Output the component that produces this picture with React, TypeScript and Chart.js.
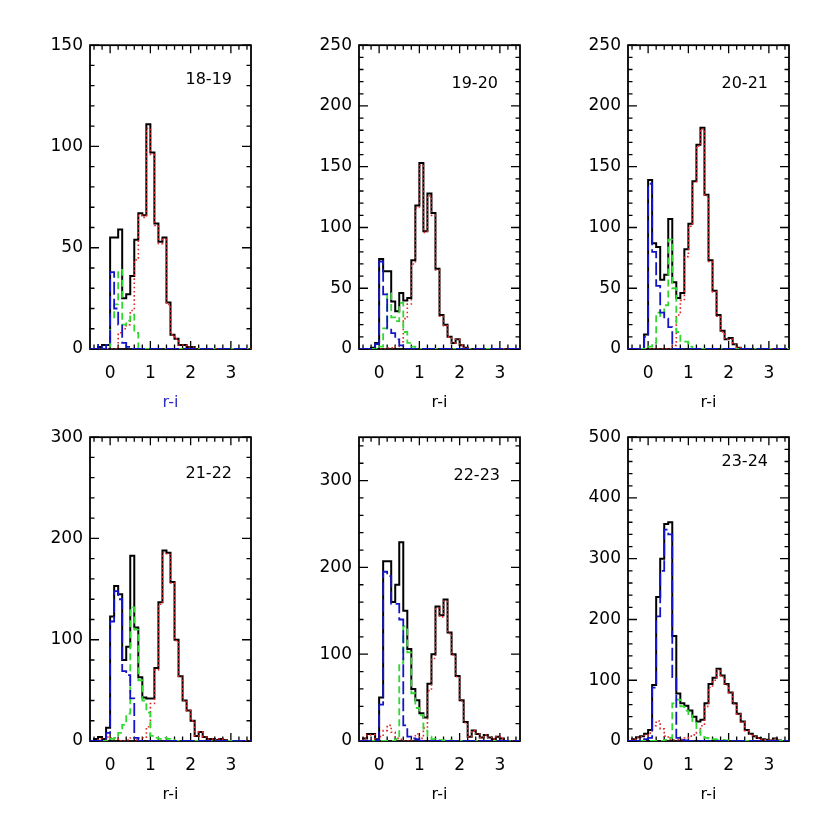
import { useEffect, useRef } from "react";
import { Chart, registerables } from "chart.js";

Chart.register(...registerables);

// ---------------- data ----------------
// histogram bins of width 0.1 starting at r-i = -0.5 (40 bins up to 3.5)
const BIN_START = -0.5;
const BIN_WIDTH = 0.1;

const magRanges = ["18-19", "19-20", "20-21", "21-22", "22-23", "23-24"];
const yMaxes = [150, 250, 250, 300, 350, 500];
const yMajorSteps = [50, 50, 50, 100, 100, 100];
const yMinorSteps = [10, 10, 10, 20, 20, 20];
const xTickLabels = [0, 1, 2, 3];
const xMinorStep = 0.2;
const xTitle = "r-i";

// panel 18-19
const total1819 = [0, 0, 1, 2, 2, 55, 55, 59, 25, 27, 36, 54, 67, 66, 111, 97, 62, 53, 55, 23, 7, 5, 2, 2, 1, 1, 0, 0, 0, 0, 0, 0, 0, 0, 0, 0, 0, 0, 0, 0];
const blue1819 = [0, 0, 2, 0, 2, 38, 20, 12, 3, 1, 0, 0, 0, 0, 0, 0, 0, 0, 0, 0, 0, 0, 0, 0, 0, 0, 0, 0, 0, 0, 0, 0, 0, 0, 0, 0, 0, 0, 0, 0];
const green1819 = [0, 0, 0, 0, 0, 15, 22, 39, 12, 14, 17, 8, 0, 0, 0, 0, 0, 0, 0, 0, 0, 0, 0, 0, 0, 0, 0, 0, 0, 0, 0, 0, 0, 0, 0, 0, 0, 0, 0, 0];
const red1819 = [0, 0, 0, 0, 0, 0, 0, 8, 10, 12, 19, 44, 66, 65, 109, 96, 61, 52, 54, 22, 7, 5, 2, 2, 1, 1, 0, 0, 0, 0, 0, 0, 0, 0, 0, 0, 0, 0, 0, 0];

// panel 19-20
const total1920 = [0, 0, 0, 1, 5, 74, 64, 64, 39, 31, 46, 40, 42, 73, 118, 153, 97, 128, 112, 66, 28, 20, 10, 5, 8, 3, 1, 0, 0, 0, 0, 0, 0, 0, 0, 0, 0, 0, 0, 0];
const blue1920 = [0, 0, 0, 1, 4, 72, 45, 17, 13, 8, 3, 0, 0, 0, 0, 0, 0, 0, 0, 0, 0, 0, 0, 0, 0, 0, 0, 0, 0, 0, 0, 0, 0, 0, 0, 0, 0, 0, 0, 0];
const green1920 = [0, 0, 0, 0, 0, 2, 17, 46, 26, 23, 38, 14, 5, 2, 0, 0, 0, 0, 0, 0, 0, 0, 0, 0, 0, 0, 0, 0, 0, 0, 0, 0, 0, 0, 0, 0, 0, 0, 0, 0];
const red1920 = [0, 0, 0, 0, 0, 0, 0, 1, 1, 2, 6, 25, 37, 70, 116, 151, 96, 126, 110, 65, 27, 19, 10, 5, 8, 3, 1, 0, 0, 0, 0, 0, 0, 0, 0, 0, 0, 0, 0, 0];

// panel 20-21
const total2021 = [0, 0, 0, 0, 12, 139, 87, 84, 57, 61, 107, 55, 42, 46, 82, 103, 138, 168, 182, 127, 73, 48, 28, 15, 8, 9, 4, 1, 0, 0, 0, 0, 0, 0, 0, 0, 0, 0, 0, 0];
const blue2021 = [0, 0, 0, 0, 10, 136, 80, 52, 30, 25, 18, 0, 0, 0, 0, 0, 0, 0, 0, 0, 0, 0, 0, 0, 0, 0, 0, 0, 0, 0, 0, 0, 0, 0, 0, 0, 0, 0, 0, 0];
const green2021 = [0, 0, 0, 0, 0, 2, 5, 30, 27, 36, 90, 50, 14, 6, 6, 2, 0, 0, 0, 0, 0, 0, 0, 0, 0, 0, 0, 0, 0, 0, 0, 0, 0, 0, 0, 0, 0, 0, 0, 0];
const red2021 = [0, 0, 0, 0, 0, 0, 0, 0, 0, 0, 0, 3, 28, 40, 76, 101, 137, 167, 181, 126, 72, 47, 27, 14, 8, 8, 4, 1, 0, 0, 0, 0, 0, 0, 0, 0, 0, 0, 0, 0];

// panel 21-22
const total2122 = [0, 2, 4, 2, 13, 123, 153, 145, 80, 93, 183, 112, 63, 43, 42, 42, 72, 137, 188, 186, 157, 100, 64, 40, 30, 20, 5, 9, 4, 2, 2, 1, 2, 1, 0, 0, 0, 0, 0, 0];
const blue2122 = [0, 0, 0, 2, 8, 118, 148, 140, 69, 65, 42, 3, 0, 0, 0, 0, 0, 0, 0, 0, 0, 0, 0, 0, 0, 0, 0, 0, 0, 0, 0, 0, 0, 0, 0, 0, 0, 0, 0, 0];
const green2122 = [0, 0, 0, 0, 0, 2, 3, 8, 16, 27, 132, 110, 60, 40, 28, 5, 3, 2, 3, 2, 1, 0, 0, 0, 0, 0, 0, 0, 0, 0, 0, 0, 0, 0, 0, 0, 0, 0, 0, 0];
const red2122 = [0, 0, 2, 0, 4, 3, 2, 0, 0, 1, 3, 1, 3, 3, 14, 37, 70, 135, 186, 184, 156, 99, 63, 40, 30, 20, 5, 9, 4, 2, 2, 1, 2, 1, 0, 0, 0, 0, 0, 0];

// panel 22-23
const total2223 = [0, 3, 8, 8, 2, 50, 207, 207, 160, 180, 229, 150, 106, 60, 47, 32, 27, 66, 100, 155, 145, 163, 125, 100, 75, 47, 22, 5, 12, 8, 4, 7, 4, 2, 5, 3, 0, 0, 0, 0];
const blue2223 = [0, 0, 0, 0, 1, 42, 195, 190, 158, 158, 140, 18, 5, 3, 2, 0, 0, 0, 0, 0, 0, 0, 0, 0, 0, 0, 0, 0, 0, 0, 0, 0, 0, 0, 0, 0, 0, 0, 0, 0];
const green2223 = [0, 0, 0, 0, 0, 0, 0, 0, 0, 2, 90, 132, 102, 55, 38, 30, 12, 5, 2, 1, 1, 1, 1, 0, 0, 0, 0, 0, 0, 0, 0, 0, 0, 0, 0, 0, 0, 0, 0, 0];
const red2223 = [0, 3, 7, 7, 2, 5, 12, 18, 10, 3, 2, 0, 0, 3, 8, 3, 15, 58, 95, 153, 143, 161, 124, 99, 74, 46, 21, 5, 12, 8, 4, 7, 4, 2, 5, 3, 0, 0, 0, 0];

// panel 23-24
const total2324 = [0, 3, 6, 8, 12, 18, 92, 237, 300, 357, 360, 173, 78, 62, 58, 50, 40, 32, 35, 62, 94, 104, 119, 108, 94, 80, 62, 45, 32, 18, 12, 8, 5, 3, 2, 1, 4, 1, 0, 0];
const blue2324 = [0, 0, 0, 1, 3, 5, 88, 205, 280, 348, 340, 105, 5, 2, 1, 0, 0, 0, 0, 0, 0, 0, 0, 0, 0, 0, 0, 0, 0, 0, 0, 0, 0, 0, 0, 0, 0, 0, 0, 0];
const green2324 = [0, 0, 0, 0, 0, 0, 0, 0, 0, 2, 5, 62, 68, 57, 50, 42, 30, 18, 10, 5, 4, 3, 2, 2, 1, 1, 0, 0, 0, 0, 0, 0, 0, 0, 0, 0, 0, 0, 0, 0];
const red2324 = [0, 3, 6, 7, 9, 13, 25, 33, 20, 8, 3, 2, 2, 3, 5, 8, 10, 14, 25, 57, 88, 100, 117, 106, 92, 79, 61, 44, 31, 17, 11, 7, 5, 3, 2, 1, 4, 1, 0, 0];

const totals = [total1819, total1920, total2021, total2122, total2223, total2324];
const blues = [blue1819, blue1920, blue2021, blue2122, blue2223, blue2324];
const greens = [green1819, green1920, green2021, green2122, green2223, green2324];
const reds = [red1819, red1920, red2021, red2122, red2223, red2324];

// ---------------- layout / style ----------------
const COL_LEFT = [90, 359, 628];
const ROW_TOP = [44, 436];
const PLOT_W = 161;
const PLOT_H = 305;
const PAD_LEFT = 50;
const PAD_TOP = 16;
const PAD_RIGHT = 20;
const PAD_BOTTOM = 63;
const LABEL_RIGHT = [19, 22, 21, 19, 20, 21];
const LABEL_DY = [35, 39, 39, 37, 39, 25];

const FONT_FAMILY = '"DejaVu Sans", "Liberation Sans", sans-serif';
const BLACK = "#000000";
const BLUE = "#1414c8";
const GREEN = "#30d830";
const RED = "#e02828";
const TITLE_BLUE = "#2d2dc8";

const decorPlugin = {
  id: "decor",
  beforeDatasetsDraw(chart: any, _args: any, opts: any) {
    const { ctx, chartArea } = chart;
    const xs = chart.scales.x;
    const ys = chart.scales.y;
    const { left, right, top, bottom } = chartArea;
    ctx.save();
    ctx.strokeStyle = BLACK;
    ctx.lineWidth = 1.3;
    ctx.beginPath();
    // x ticks (inward, bottom and top)
    for (let k = -2; k <= 17; k++) {
      const v = k * xMinorStep;
      const px = xs.getPixelForValue(v);
      const len = k % 5 === 0 ? 8 : 4.5;
      ctx.moveTo(px, bottom);
      ctx.lineTo(px, bottom - len);
      ctx.moveTo(px, top);
      ctx.lineTo(px, top + len);
    }
    // y ticks (inward, left and right)
    for (let v = 0; v <= opts.ymax; v += opts.minor) {
      const py = ys.getPixelForValue(v);
      const len = v % opts.major === 0 ? 9 : 4.5;
      ctx.moveTo(left, py);
      ctx.lineTo(left + len, py);
      ctx.moveTo(right, py);
      ctx.lineTo(right - len, py);
    }
    ctx.stroke();
    ctx.lineWidth = 1.8;
    ctx.strokeRect(left, top, right - left, bottom - top);
    // magnitude range label
    ctx.fillStyle = BLACK;
    ctx.font = `16px ${FONT_FAMILY}`;
    ctx.textAlign = "right";
    ctx.textBaseline = "middle";
    ctx.fillText(opts.label, right - opts.labelRight, top + opts.labelDy);
    ctx.restore();
  },
};

function histPoints(values: number[]) {
  const pts = values.map((v, i) => ({ x: +(BIN_START + i * BIN_WIDTH).toFixed(2), y: v }));
  pts.push({ x: +(BIN_START + values.length * BIN_WIDTH).toFixed(2), y: values[values.length - 1] });
  return pts;
}

function Panel({ idx }: { idx: number }) {
  const ref = useRef<HTMLCanvasElement>(null);
  const col = idx % 3;
  const row = Math.floor(idx / 3);
  const cw = PAD_LEFT + PLOT_W + PAD_RIGHT;
  const ch = PAD_TOP + PLOT_H + PAD_BOTTOM;

  useEffect(() => {
    if (!ref.current) return;
    const ymax = yMaxes[idx];
    const major = yMajorSteps[idx];
    const yTickVals: number[] = [];
    for (let v = 0; v <= ymax; v += major) yTickVals.push(v);
    const tickFont = { family: FONT_FAMILY, size: 17 };
    const titleFont = { family: FONT_FAMILY, size: 16 };
    const line = (data: number[], color: string, dash: number[], width: number) => ({
      data: histPoints(data),
      borderColor: color,
      borderDash: dash,
      borderWidth: width,
      stepped: "before" as const,
      pointRadius: 0,
      fill: false,
      tension: 0,
    });
    const chart = new Chart(ref.current, {
      type: "line",
      data: {
        datasets: [
          line(blues[idx], BLUE, [13, 4], 1.8),
          line(greens[idx], GREEN, [7, 4], 1.8),
          line(reds[idx], RED, [1.6, 2.6], 1.6),
          line(totals[idx], BLACK, [], 2),
        ],
      },
      options: {
        animation: false,
        responsive: false,
        events: [],
        layout: { padding: { top: PAD_TOP, right: PAD_RIGHT, left: 0, bottom: 0 } },
        plugins: {
          legend: { display: false },
          tooltip: { enabled: false },
          decor: {
            ymax,
            major,
            minor: yMinorSteps[idx],
            label: magRanges[idx],
            labelRight: LABEL_RIGHT[idx],
            labelDy: LABEL_DY[idx],
          },
        } as any,
        scales: {
          x: {
            type: "linear",
            min: -0.5,
            max: 3.5,
            grid: { display: false, drawTicks: false },
            border: { display: false },
            afterBuildTicks: (s: any) => {
              s.ticks = xTickLabels.map((v) => ({ value: v }));
            },
            afterFit: (s: any) => {
              s.height = PAD_BOTTOM;
            },
            ticks: {
              font: tickFont,
              color: BLACK,
              padding: 14,
              maxRotation: 0,
              autoSkip: false,
              callback: (v: any) => String(v),
            },
            title: {
              display: true,
              text: xTitle,
              color: idx === 0 ? TITLE_BLUE : BLACK,
              font: titleFont,
              padding: { top: 0, bottom: 0 },
            },
          },
          y: {
            type: "linear",
            min: 0,
            max: ymax,
            grid: { display: false, drawTicks: false },
            border: { display: false },
            afterBuildTicks: (s: any) => {
              s.ticks = yTickVals.map((v) => ({ value: v }));
            },
            afterFit: (s: any) => {
              s.width = PAD_LEFT;
            },
            ticks: {
              font: tickFont,
              color: BLACK,
              padding: 7,
              autoSkip: false,
              callback: (v: any) => String(v),
            },
          },
        },
      } as any,
      plugins: [decorPlugin],
    });
    return () => chart.destroy();
  }, [idx]);

  return (
    <canvas
      ref={ref}
      width={cw}
      height={ch}
      style={{
        position: "absolute",
        left: COL_LEFT[col] - PAD_LEFT,
        top: ROW_TOP[row] - PAD_TOP,
        width: cw,
        height: ch,
      }}
    />
  );
}

export default function App() {
  return (
    <div
      style={{
        position: "absolute",
        left: 0,
        top: 0,
        width: 830,
        height: 830,
        background: "#ffffff",
      }}
    >
      {magRanges.map((_, i) => (
        <Panel key={i} idx={i} />
      ))}
    </div>
  );
}
